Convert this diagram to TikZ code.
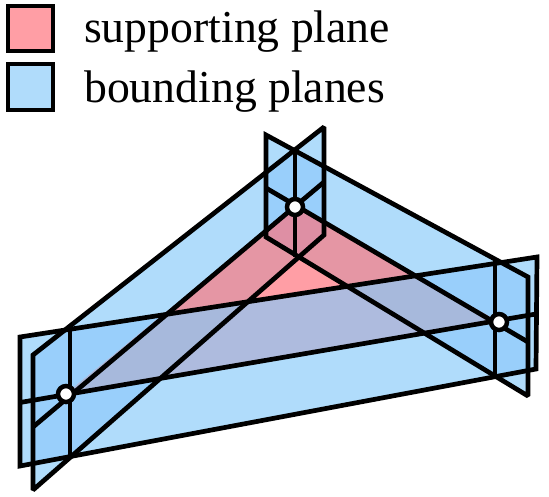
\documentclass[tikz,border=0pt]{standalone}
\usepackage{fontspec}
\setmainfont{Liberation Serif}
\definecolor{bl}{HTML}{B0DCFB}
\definecolor{blb}{HTML}{99CFFB}
\definecolor{pk}{HTML}{FF9EA5}
\definecolor{pkb}{HTML}{E596A4}
\definecolor{pkbb}{HTML}{DE8FA4}
\definecolor{pu}{HTML}{AEBBDE}
\definecolor{puu}{HTML}{A7B9DC}
\tikzset{
  outl/.style={draw=black,line width=4.7pt,line join=miter,miter limit=2,line cap=round},
  inl/.style={draw=black,line width=4.7pt,line cap=butt},
  legendbox/.style={draw=black,line width=4.7pt,line join=miter},
  lab/.style={anchor=base west,inner sep=0pt,font=\fontsize{45.7}{50}\selectfont},
  vertex/.style={circle,draw=black,fill=white,line width=4.5pt,minimum size=16pt,inner sep=0pt}
}
\begin{document}
\begin{tikzpicture}[x=1pt,y=-1pt]
\useasboundingbox (0,0) rectangle (549,496);
% plane corners
\coordinate (a1) at (20,337); \coordinate (a2) at (537,257); \coordinate (a3) at (536,369); \coordinate (a4) at (20,466);
\coordinate (b1) at (33,355); \coordinate (b2) at (324,127); \coordinate (b3) at (324,235); \coordinate (b4) at (33,490);
\coordinate (c1) at (266,135); \coordinate (c2) at (528,277); \coordinate (c3) at (528,396); \coordinate (c4) at (266,237);
\coordinate (p) at (66,394); \coordinate (q) at (295,207); \coordinate (r) at (499,322);
\def\PA{(a1)--(a2)--(a3)--(a4)--cycle}
\def\PB{(b1)--(b2)--(b3)--(b4)--cycle}
\def\PC{(c1)--(c2)--(c3)--(c4)--cycle}
\def\PT{(p)--(q)--(r)--cycle}
% fills
\fill[bl] \PA; \fill[bl] \PB; \fill[bl] \PC;
\begin{scope}\clip \PA; \fill[blb] \PB; \fill[blb] \PC; \end{scope}
\begin{scope}\clip \PB; \fill[blb] \PC; \end{scope}
\fill[pk] \PT;
\begin{scope}\clip \PT;
  \fill[pkb] \PB; \fill[pkb] \PC;
  \begin{scope}\clip \PB; \fill[pkbb] \PC; \end{scope}
  \fill[pu] \PA;
  \begin{scope}\clip \PA; \fill[puu] \PB; \fill[puu] \PC; \end{scope}
\end{scope}
% verticals and central lines
\draw[inl] (70,329) -- (70,455);
\draw[inl] (295,152) -- (295,257);
\draw[inl] (495,261) -- (495,375);
\draw[inl] (20,402.5) -- (536,314);
\draw[inl] (33,427) -- (324,182);
\draw[inl] (266,188) -- (528,342);
% outlines
\draw[outl] \PA; \draw[outl] \PB; \draw[outl] \PC;
% vertices
\node[vertex] (v1) at (p) {};
\node[vertex] (v2) at (q) {};
\node[vertex] (v3) at (r) {};
% legend
\draw[legendbox,fill=pk] (8,6) rectangle (53,51);
\draw[legendbox,fill=bl] (8,64) rectangle (53,110);
\node[lab] (t1) at (84,42) {supporting plane};
\node[lab] (t2) at (84,102) {bounding planes};
\end{tikzpicture}
\end{document}
